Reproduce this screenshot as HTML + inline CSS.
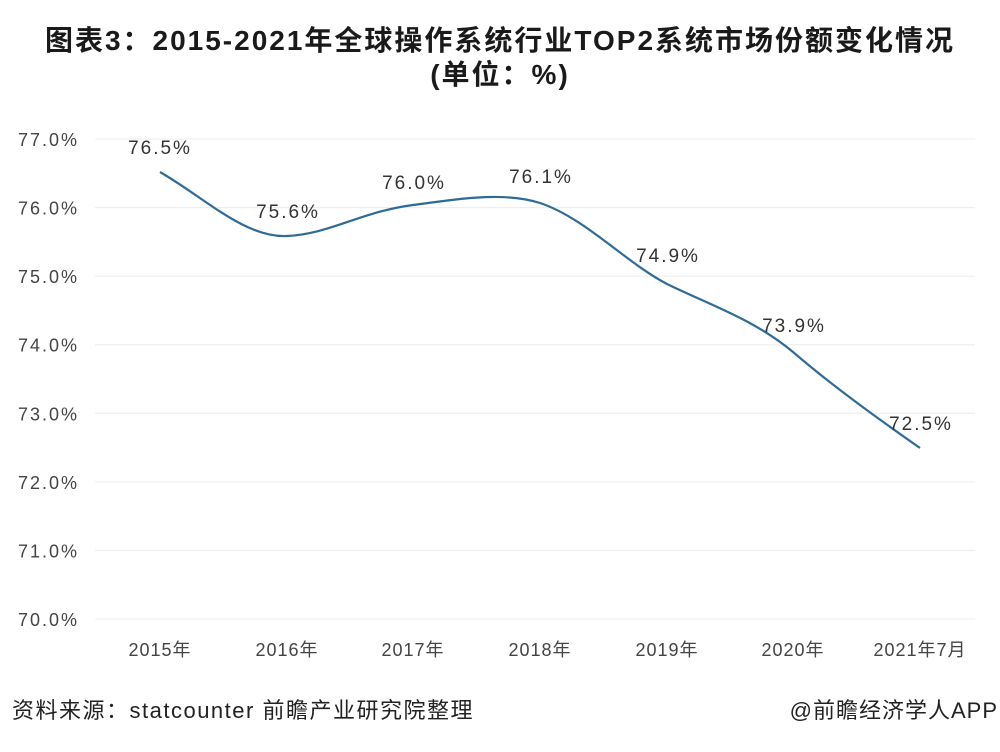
<!DOCTYPE html>
<html><head><meta charset="utf-8"><style>
html,body{margin:0;padding:0;background:#fff;}
body{width:1000px;height:747px;overflow:hidden;font-family:"Liberation Sans","Noto Sans CJK SC",sans-serif;}
</style></head><body>
<svg width="1000" height="747" viewBox="0 0 1000 747" xmlns="http://www.w3.org/2000/svg" font-family="Liberation Sans, Noto Sans CJK SC, sans-serif">
<text x="500" y="50" text-anchor="middle" font-size="28" font-weight="bold" fill="#1a1a1a" letter-spacing="2">图表3：2015-2021年全球操作系统行业TOP2系统市场份额变化情况</text>
<text x="500" y="84" text-anchor="middle" font-size="28" font-weight="bold" fill="#1a1a1a" letter-spacing="2">(单位：%)</text>
<g stroke="#ececec" stroke-width="1">
<line x1="95" y1="139" x2="975" y2="139"/><line x1="95" y1="207.6" x2="975" y2="207.6"/>
<line x1="95" y1="276.1" x2="975" y2="276.1"/><line x1="95" y1="344.7" x2="975" y2="344.7"/>
<line x1="95" y1="413.3" x2="975" y2="413.3"/><line x1="95" y1="481.9" x2="975" y2="481.9"/>
<line x1="95" y1="550.4" x2="975" y2="550.4"/><line x1="95" y1="619" x2="975" y2="619"/>
</g>
<g font-size="18" fill="#444" text-anchor="end" letter-spacing="2">
<text x="79" y="146">77.0%</text><text x="79" y="214.6">76.0%</text><text x="79" y="283.1">75.0%</text>
<text x="79" y="351.7">74.0%</text><text x="79" y="420.3">73.0%</text><text x="79" y="488.9">72.0%</text>
<text x="79" y="557.4">71.0%</text><text x="79" y="626">70.0%</text>
</g>
<g font-size="18" fill="#444" text-anchor="middle" letter-spacing="1">
<text x="160" y="656">2015年</text><text x="287" y="656">2016年</text><text x="413" y="656">2017年</text>
<text x="540" y="656">2018年</text><text x="667" y="656">2019年</text><text x="793" y="656">2020年</text>
<text x="920" y="656">2021年7月</text>
</g>
<path d="M160,172 C205,198 245,238 287,236 C330,234 360,212 413,205 C465,198 505,192 540,203 C585,218 625,262 667,284 C710,305 755,320 793,352 C835,388 880,420 920,448" fill="none" stroke="#2f6b97" stroke-width="2.2"/>
<g font-size="19" fill="#333" text-anchor="middle" letter-spacing="2">
<text x="160" y="154">76.5%</text><text x="288" y="218">75.6%</text><text x="414" y="189">76.0%</text>
<text x="541" y="183">76.1%</text><text x="668" y="262">74.9%</text><text x="794" y="332">73.9%</text>
<text x="921" y="430">72.5%</text>
</g>
<text x="12" y="718" font-size="22" fill="#222" letter-spacing="1.5">资料来源：statcounter 前瞻产业研究院整理</text>
<text x="998" y="718" font-size="22" fill="#222" text-anchor="end" letter-spacing="1">@前瞻经济学人APP</text>
</svg>
</body></html>
